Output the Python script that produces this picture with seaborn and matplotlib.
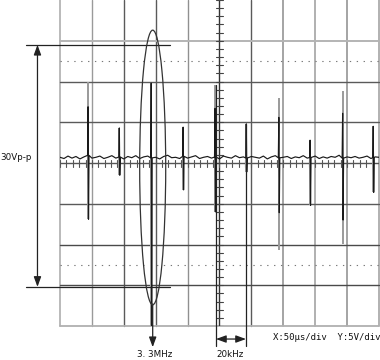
import numpy as np
import pandas as pd
import matplotlib
matplotlib.use("Agg")
import matplotlib.pyplot as plt
import seaborn as sns
from matplotlib.patches import Ellipse

# ---- data (time in microseconds, voltage in volts) ----
spike_t = [44, 93, 143, 193, 243, 292, 343, 392, 443, 491]
spike_up = [6.9, 4.3, 9.8, 4.4, 6.7, 4.8, 5.6, 2.8, 6.1, 4.5]
spike_down = [-6.9, -1.5, -20.0, -3.3, -6.0, -1.1, -6.1, -5.2, -7.0, -3.6]
ghost_up = [9.9, 4.3, 9.8, 4.4, 9.6, 4.8, 8.0, 2.8, 8.8, 4.5]
ghost_down = [-6.9, -1.5, -20.0, -3.3, -6.0, -1.1, -10.7, -5.2, -9.9, -3.6]
noise = [0.70, 0.55, 0.85, 0.60, 0.80, 0.50, 0.75, 0.95, 0.60, 0.70,
         0.85, 0.55, 0.70, 0.90, 0.60, 0.75, 0.50, 0.80, 0.65, 0.90,
         0.55, 0.75, 0.85, 0.60, 0.70, 0.50, 0.80, 0.95, 0.65, 0.70,
         0.55, 0.85, 0.60, 0.75, 0.90, 0.55, 0.70, 0.80, 0.60, 0.75,
         0.50, 0.85, 0.70, 0.60, 0.90, 0.65, 0.75, 0.55, 0.80, 0.70,
         0.60, 0.85, 0.50, 0.75, 0.90, 0.60, 0.70, 0.80, 0.55, 0.75,
         0.65, 0.90, 0.60, 0.70, 0.85, 0.55, 0.75, 0.60, 0.80, 0.70,
         0.95, 0.55, 0.75, 0.65, 0.80, 0.60, 0.70, 0.85, 0.55, 0.75, 0.70]

pp_top, pp_bottom = 14.5, -15.2          # 30Vp-p markers
burst_t = 145.3                           # 3.3MHz marker
freq_t = [244.5, 291.5]                   # 20kHz markers
freq_top = [9.6, 4.8]
label_pp = "30Vp-p"
label_mhz = "3. 3MHz"
label_khz = "20kHz"
label_scale = "X:50μs/div  Y:5V/div"

# ---- build trace ----
base_t = np.linspace(0, 500, len(noise))
pts_t, pts_v = [], []
for t, v in zip(base_t, noise):
    if min(abs(t - s) for s in spike_t) > 2.5:
        pts_t.append(t); pts_v.append(v)
for s, u, d in zip(spike_t, spike_up, spike_down):
    b = float(np.interp(s, base_t, noise))
    pts_t += [s - 0.8, s, s + 0.7, s + 1.5]
    pts_v += [b, u, d, b]
df = pd.DataFrame({"t": pts_t, "v": pts_v}).sort_values("t")

sns.set_style("white")
fig = plt.figure(figsize=(3.8, 3.6), dpi=100)
ax = fig.add_axes([60 / 380, 34 / 360, 319 / 380, 326 / 360])
ax.set_xlim(0, 500)
ax.set_ylim(-20, 20)
for sp in ax.spines.values():
    sp.set_visible(False)
ax.set_xticks([]); ax.set_yticks([])

# grid
vcols = ["#b4b4b4", "#9a9a9a", "#5a5a5a", "#5a5a5a", "#909090", None,
         "#5a5a5a", "#8c8c8c", "#b0b0b0", "#8c8c8c", "#9c9c9c"]
vlw = [1.3, 1.0, 1.0, 1.0, 1.0, 1.0, 1.0, 1.1, 1.4, 1.1, 1.1]
for i, x in enumerate(np.arange(0, 501, 50)):
    if vcols[i]:
        ax.axvline(x, color=vcols[i], lw=vlw[i], clip_on=False, zorder=1)
hcols = ["#b0b0b0", "#4a4a4a", "#4a4a4a", "#5a5a5a", None, "#5a5a5a", "#5a5a5a", "#b4b4b4", None]
hlw = [1.3, 1.0, 1.0, 1.0, 1.0, 1.0, 1.0, 1.4, 1.0]
for i, y in enumerate(np.arange(-20, 21, 5)):
    if hcols[i]:
        ax.axhline(y, color=hcols[i], lw=hlw[i], clip_on=False, zorder=1)
for y in (12.5, -12.5):
    ax.axhline(y, color="#777777", lw=0.8, ls=(0, (1.2, 5)), zorder=1)

# center axes with minor ticks
ax.axhline(0, color="#555555", lw=1.0, zorder=1)
ax.axvline(250, color="#333333", lw=1.0, zorder=1)
for x in np.arange(0, 501, 10):
    ax.plot([x, x], [-0.55, 0.35], color="#555555", lw=0.8, zorder=1)
for y in np.arange(-20, 20.1, 1):
    ax.plot([245, 255], [y, y], color="#444444", lw=0.8, zorder=1)

# trace
ax.vlines(spike_t, ghost_down, ghost_up, color="#9a9a9a", lw=1.4, zorder=2)
sns.lineplot(data=df, x="t", y="v", ax=ax, color="#1a1a1a", lw=0.85,
             sort=False, estimator=None, zorder=3)
ax.set_xlabel(""); ax.set_ylabel("")

# 30Vp-p annotation
x_left, x_right, x_arrow = -53.3, 172.0, -35.3
for y in (pp_top, pp_bottom):
    ax.plot([x_left, x_right], [y, y], color="#222222", lw=0.9, clip_on=False, zorder=4)
ax.annotate("", xy=(x_arrow, pp_top), xytext=(x_arrow, pp_bottom),
            arrowprops=dict(arrowstyle="<|-|>,head_length=0.6,head_width=0.22",
                            color="#222222", lw=0.9, shrinkA=0, shrinkB=0,
                            mutation_scale=10), annotation_clip=False)
ax.text(-94, 0.7, label_pp, ha="left", va="center", fontsize=6.3,
        family="DejaVu Sans", color="#111111")

# 3.3MHz ellipse and arrow
ax.add_patch(Ellipse((burst_t, -0.55), width=40.8, height=33.7, fill=False,
                     ec="#333333", lw=0.9, zorder=4, clip_on=False))
ax.annotate("", xy=(burst_t, -22.6), xytext=(burst_t, -17.3),
            arrowprops=dict(arrowstyle="-|>,head_length=0.6,head_width=0.22",
                            color="#222222", lw=0.9, shrinkA=0, shrinkB=0,
                            mutation_scale=10), annotation_clip=False)
ax.text(148, -23.5, label_mhz, ha="center", va="center", fontsize=6.3,
        family="DejaVu Sans", color="#111111")

# 20kHz markers
for t, top in zip(freq_t, freq_top):
    ax.plot([t, t], [top, -22.4], color="#222222", lw=0.9, clip_on=False, zorder=4)
ax.annotate("", xy=(freq_t[0], -21.6), xytext=(freq_t[1], -21.6),
            arrowprops=dict(arrowstyle="<|-|>,head_length=0.6,head_width=0.22",
                            color="#222222", lw=0.9, shrinkA=0, shrinkB=0,
                            mutation_scale=10), annotation_clip=False)
ax.text(266.5, -23.5, label_khz, ha="center", va="center", fontsize=6.3,
        family="DejaVu Sans", color="#111111")

ax.text(333.5, -21.35, label_scale, ha="left", va="center", fontsize=6.5,
        family="DejaVu Sans Mono", color="#111111")

fig.savefig("out.png", dpi=100)
